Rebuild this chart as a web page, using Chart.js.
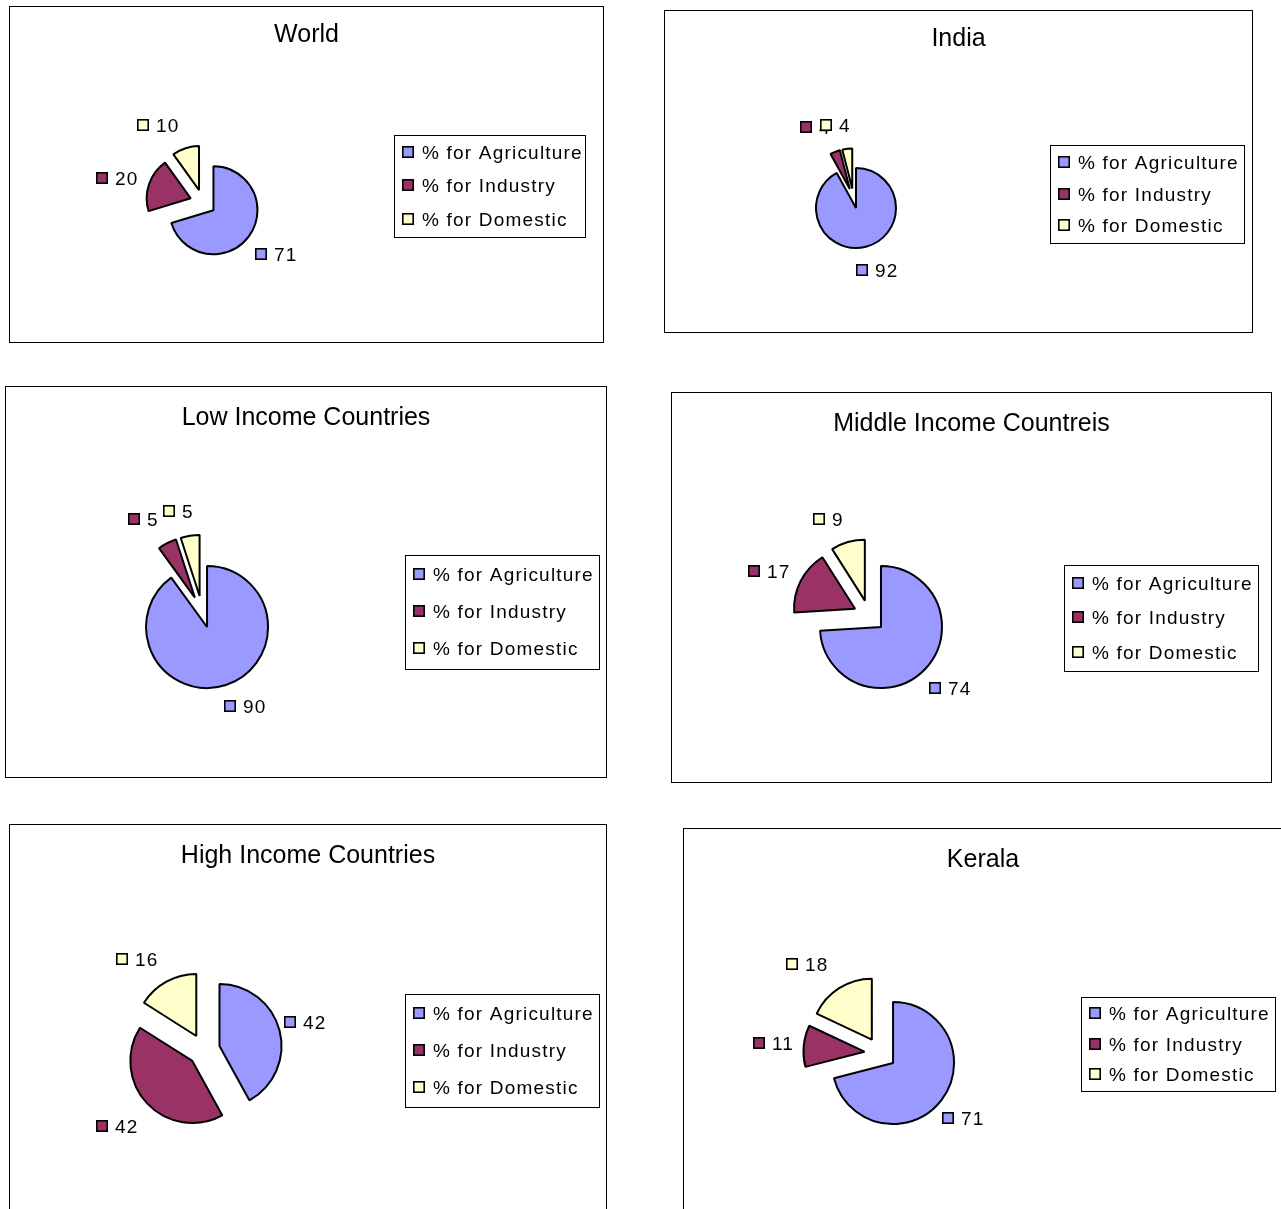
<!DOCTYPE html>
<html>
<head>
<meta charset="utf-8">
<script src="https://cdn.jsdelivr.net/npm/chart.js@4.4.0/dist/chart.umd.min.js"></script>
<style>
  html, body { margin: 0; padding: 0; background: #fff; }
  body { width: 1281px; height: 1209px; overflow: hidden; position: relative; }
  .box { position: absolute; box-sizing: border-box; border: 1px solid #000; background: #fff; }
  .box canvas { display: block; }
</style>
</head>
<body>
<script>
// data
const categories = ['% for Agriculture', '% for Industry', '% for Domestic'];
const sliceColors = ['#9999FF', '#993366', '#FFFFCC'];

const worldValues = [71, 20, 10];
const indiaValues = [92, 4, 4];
const lowIncomeValues = [90, 5, 5];
const middleIncomeValues = [74, 17, 9];
const highIncomeValues = [42, 42, 16];
const keralaValues = [71, 11, 18];

const FONT = '"Liberation Sans", Arial, sans-serif';

// layout of each panel (box on the page, pie centre/radius inside the canvas, legend box)
const panels = [
  { title: 'World', values: worldValues,
    box: [9, 6, 595, 337], titleY: 35, center: [193, 195.5], r: 44, explode: 13,
    legend: [384, 128, 191, 102],
    nudge: [[4, 7], [-4.5, 0], [-18, -6]] },
  { title: 'India', values: indiaValues,
    box: [664, 10, 589, 323], titleY: 35, center: [188.5, 187.3], r: 40, explode: 10,
    legend: [385, 134, 194, 98],
    nudge: [[4.5, 6], [-10.7, -8], [-9.3, -6]] },
  { title: 'Low Income Countries', values: lowIncomeValues,
    box: [5, 386, 602, 392], titleY: 37.5, center: [196.1, 224.8], r: 61, explode: 16,
    legend: [399, 168, 194, 114],
    nudge: [[10.8, 4], [-12.7, -8], [-8.5, -7]] },
  { title: 'Middle Income Countreis', values: middleIncomeValues,
    box: [671, 392, 601, 391], titleY: 37.5, center: [197.3, 223], r: 61, explode: 16,
    legend: [392, 172, 194, 106],
    nudge: [[3.3, 7], [-5.8, -2], [-13.4, -6]] },
  { title: 'High Income Countries', values: highIncomeValues,
    box: [9, 824, 598, 400], titleY: 37.5, center: [194, 225], r: 62, explode: 16,
    legend: [395, 169, 194, 113],
    nudge: [[-2.7, -4], [-8.9, 10], [-15, -7]] },
  { title: 'Kerala', values: keralaValues,
    box: [683, 828, 600, 400], titleY: 37.5, center: [196.4, 224.2], r: 61, explode: 16,
    legend: [397, 168, 194, 94],
    nudge: [[-1.3, 6.6], [-1.8, -1.3], [-16.3, -9]] }
];

function keySquare(ctx, x, cy, color) {
  const top = Math.round(cy - 6);
  ctx.fillStyle = color;
  ctx.fillRect(x, top, 12, 12);
  ctx.strokeStyle = '#000';
  ctx.lineWidth = 1.6;
  ctx.strokeRect(x + 0.8, top + 0.8, 10.4, 10.4);
}

// pulls every slice out from the centre along its middle angle
function explodePlugin(p) {
  return {
    id: 'explode',
    beforeDatasetDraw(chart, args) {
      const ctx = chart.ctx;
      args.meta.data.forEach(arc => {
        const mid = (arc.startAngle + arc.endAngle) / 2;
        ctx.save();
        ctx.translate(Math.cos(mid) * p.explode, Math.sin(mid) * p.explode);
        arc.draw(ctx);
        ctx.restore();
      });
      return false;
    }
  };
}

// title, boxed legend and the "[] value" labels next to slices
function decorPlugin(p) {
  return {
    id: 'decor',
    afterDraw(chart) {
      const ctx = chart.ctx;
      ctx.save();
      ctx.fillStyle = '#000';
      ctx.font = '25px ' + FONT;
      ctx.textAlign = 'center';
      ctx.textBaseline = 'alphabetic';
      ctx.fillText(p.title, chart.width / 2, p.titleY);

      const [lx, ly, lw, lh] = p.legend;
      ctx.strokeStyle = '#000';
      ctx.lineWidth = 1;
      ctx.strokeRect(lx + 0.5, ly + 0.5, lw, lh);
      ctx.font = '19px ' + FONT;
      ctx.letterSpacing = '1.2px';
      ctx.textAlign = 'left';
      categories.forEach((name, i) => {
        const rowY = ly + lh * (0.17 + 0.325 * i);
        keySquare(ctx, lx + 8, rowY, sliceColors[i]);
        ctx.fillStyle = '#000';
        ctx.fillText(name, lx + 28, rowY + 7);
      });

      const meta = chart.getDatasetMeta(0);
      meta.data.forEach((arc, i) => {
        const txt = String(chart.data.datasets[0].data[i]);
        const w = 19 + ctx.measureText(txt).width;
        const h = 20;
        const mid = (arc.startAngle + arc.endAngle) / 2;
        const dx = Math.cos(mid), dy = Math.sin(mid);
        const d = arc.outerRadius + p.explode + 8;
        const cx = arc.x + dx * d + dx * w / 2 + p.nudge[i][0];
        const cy = arc.y + dy * d + dy * h / 2 + p.nudge[i][1];
        const left = Math.round(cx - w / 2);
        keySquare(ctx, left, cy, sliceColors[i]);
        ctx.fillStyle = '#000';
        ctx.fillText(txt, left + 19, cy + 7);
      });
      ctx.restore();
    }
  };
}

panels.forEach((p, n) => {
  const [bx, by, bw, bh] = p.box;
  const div = document.createElement('div');
  div.className = 'box';
  div.style.left = bx + 'px';
  div.style.top = by + 'px';
  div.style.width = bw + 'px';
  div.style.height = bh + 'px';
  const canvas = document.createElement('canvas');
  const cw = bw - 2, chh = bh - 2;
  canvas.width = cw;
  canvas.height = chh;
  canvas.style.width = cw + 'px';
  canvas.style.height = chh + 'px';
  div.appendChild(canvas);
  document.body.appendChild(div);

  const s = 80;
  const [pcx, pcy] = p.center;
  new Chart(canvas, {
    type: 'pie',
    data: {
      labels: categories,
      datasets: [{
        data: p.values,
        backgroundColor: sliceColors,
        borderColor: '#000',
        borderWidth: 2,
        radius: p.r
      }]
    },
    options: {
      responsive: false,
      animation: false,
      devicePixelRatio: 1,
      events: [],
      layout: {
        padding: { left: pcx - s, right: cw - pcx - s, top: pcy - s, bottom: chh - pcy - s }
      },
      plugins: {
        legend: { display: false },
        tooltip: { enabled: false },
        title: { display: false }
      }
    },
    plugins: [explodePlugin(p), decorPlugin(p)]
  });
});
</script>
</body>
</html>
